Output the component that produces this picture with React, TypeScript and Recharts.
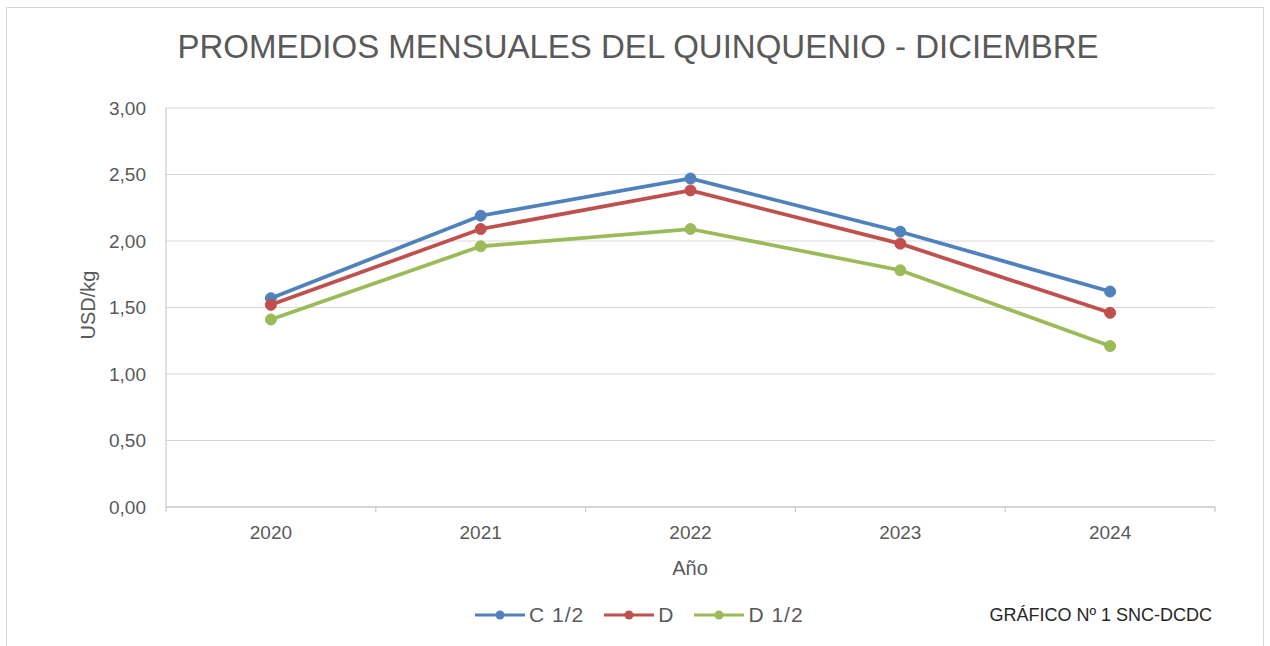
import { CartesianGrid, Legend, Line, LineChart, XAxis, YAxis } from "recharts";

const years = [2020, 2021, 2022, 2023, 2024];
const c12Values = [1.57, 2.19, 2.47, 2.07, 1.62];
const dValues = [1.52, 2.09, 2.38, 1.98, 1.46];
const d12Values = [1.41, 1.96, 2.09, 1.78, 1.21];
const yTicks = [0, 0.5, 1, 1.5, 2, 2.5, 3];
const seriesKeys = ["c12", "d", "d12"];
const seriesNames = ["C 1/2", "D", "D 1/2"];
const seriesColors = ["#4f81bd", "#c0504d", "#9bbb59"];

const data = years.map((year, i) => ({
  year,
  c12: c12Values[i],
  d: dValues[i],
  d12: d12Values[i],
}));

// category borders get the small tick marks, the centres get the year labels
const xTicks = [...years.map((y) => y - 0.5), years[years.length - 1] + 0.5, ...years].sort((a, b) => a - b);

const font = "'Liberation Sans', Arial, sans-serif";
const textColor = "#595959";

function YearTick(props: any) {
  const { x, y, payload } = props;
  const v = payload.value;
  if (Number.isInteger(v)) {
    return (
      <text x={x} y={y + 32} textAnchor="middle" fill={textColor} fontSize={19} fontFamily={font}>
        {v}
      </text>
    );
  }
  return <line x1={x} y1={y} x2={x} y2={y + 5} stroke="#bfbfbf" />;
}

function LegendContent() {
  return (
    <div
      style={{
        display: "flex",
        alignItems: "center",
        fontFamily: font,
        fontSize: 21,
        letterSpacing: 1,
        color: textColor,
      }}
    >
      {seriesNames.map((name, i) => (
        <div key={name} style={{ display: "flex", alignItems: "center", marginRight: 20 }}>
          <svg width={50} height={12}>
            <line x1={0} y1={6} x2={50} y2={6} stroke={seriesColors[i]} strokeWidth={3} />
            <circle cx={25} cy={6} r={4.5} fill={seriesColors[i]} />
          </svg>
          <span style={{ marginLeft: 4 }}>{name}</span>
        </div>
      ))}
    </div>
  );
}

export default function App() {
  return (
    <div style={{ position: "absolute", left: 0, top: 0, width: 1270, height: 646, background: "#fff", overflow: "hidden" }}>
      <div
        style={{
          position: "absolute",
          left: 6,
          top: 7,
          width: 1256,
          height: 700,
          border: "1px solid #d9d9d9",
        }}
      />
      <LineChart
        width={1270}
        height={646}
        data={data}
        margin={{ top: 108, right: 55, left: 106, bottom: 99 }}
        style={{ fontFamily: font }}
      >
        <CartesianGrid vertical={false} stroke="#d9d9d9" />
        <XAxis
          dataKey="year"
          type="number"
          domain={[years[0] - 0.5, years[years.length - 1] + 0.5]}
          ticks={xTicks}
          interval={0}
          height={40}
          tickSize={0}
          tickMargin={0}
          tickLine={false}
          stroke="#bfbfbf"
          tick={<YearTick />}
        />
        <YAxis
          domain={[0, 3]}
          ticks={yTicks}
          width={60}
          tickSize={0}
          tickMargin={20}
          tickLine={false}
          stroke="#bfbfbf"
          tick={{ fill: textColor, fontSize: 19 }}
          tickFormatter={(v: number) => v.toFixed(2).replace(".", ",")}
        />
        <Legend
          layout="horizontal"
          verticalAlign="middle"
          align="center"
          content={<LegendContent />}
          wrapperStyle={{ top: 603, left: 475, width: "auto" }}
        />
        {seriesKeys.map((key, i) => (
          <Line
            key={key}
            dataKey={key}
            name={seriesNames[i]}
            stroke={seriesColors[i]}
            strokeWidth={3.75}
            dot={{ r: 5.5, fill: seriesColors[i], stroke: seriesColors[i], strokeWidth: 1 }}
            activeDot={false}
            isAnimationActive={false}
          />
        ))}
      </LineChart>
      <svg width={1270} height={646} style={{ position: "absolute", left: 0, top: 0, pointerEvents: "none" }}>
        <text x={638} y={58} textAnchor="middle" fontSize={33} fill={textColor} fontFamily={font}>
          PROMEDIOS MENSUALES DEL QUINQUENIO - DICIEMBRE
        </text>
        <text
          x={88}
          y={305}
          transform="rotate(-90 88 305)"
          textAnchor="middle"
          dominantBaseline="central"
          fontSize={20}
          fill={textColor}
          fontFamily={font}
        >
          USD/kg
        </text>
        <text x={690} y={575} textAnchor="middle" fontSize={20} fill={textColor} fontFamily={font}>
          Año
        </text>
        <text x={1212} y={621} textAnchor="end" fontSize={18} fill="#262626" fontFamily={font}>
          GRÁFICO Nº 1 SNC-DCDC
        </text>
      </svg>
    </div>
  );
}
